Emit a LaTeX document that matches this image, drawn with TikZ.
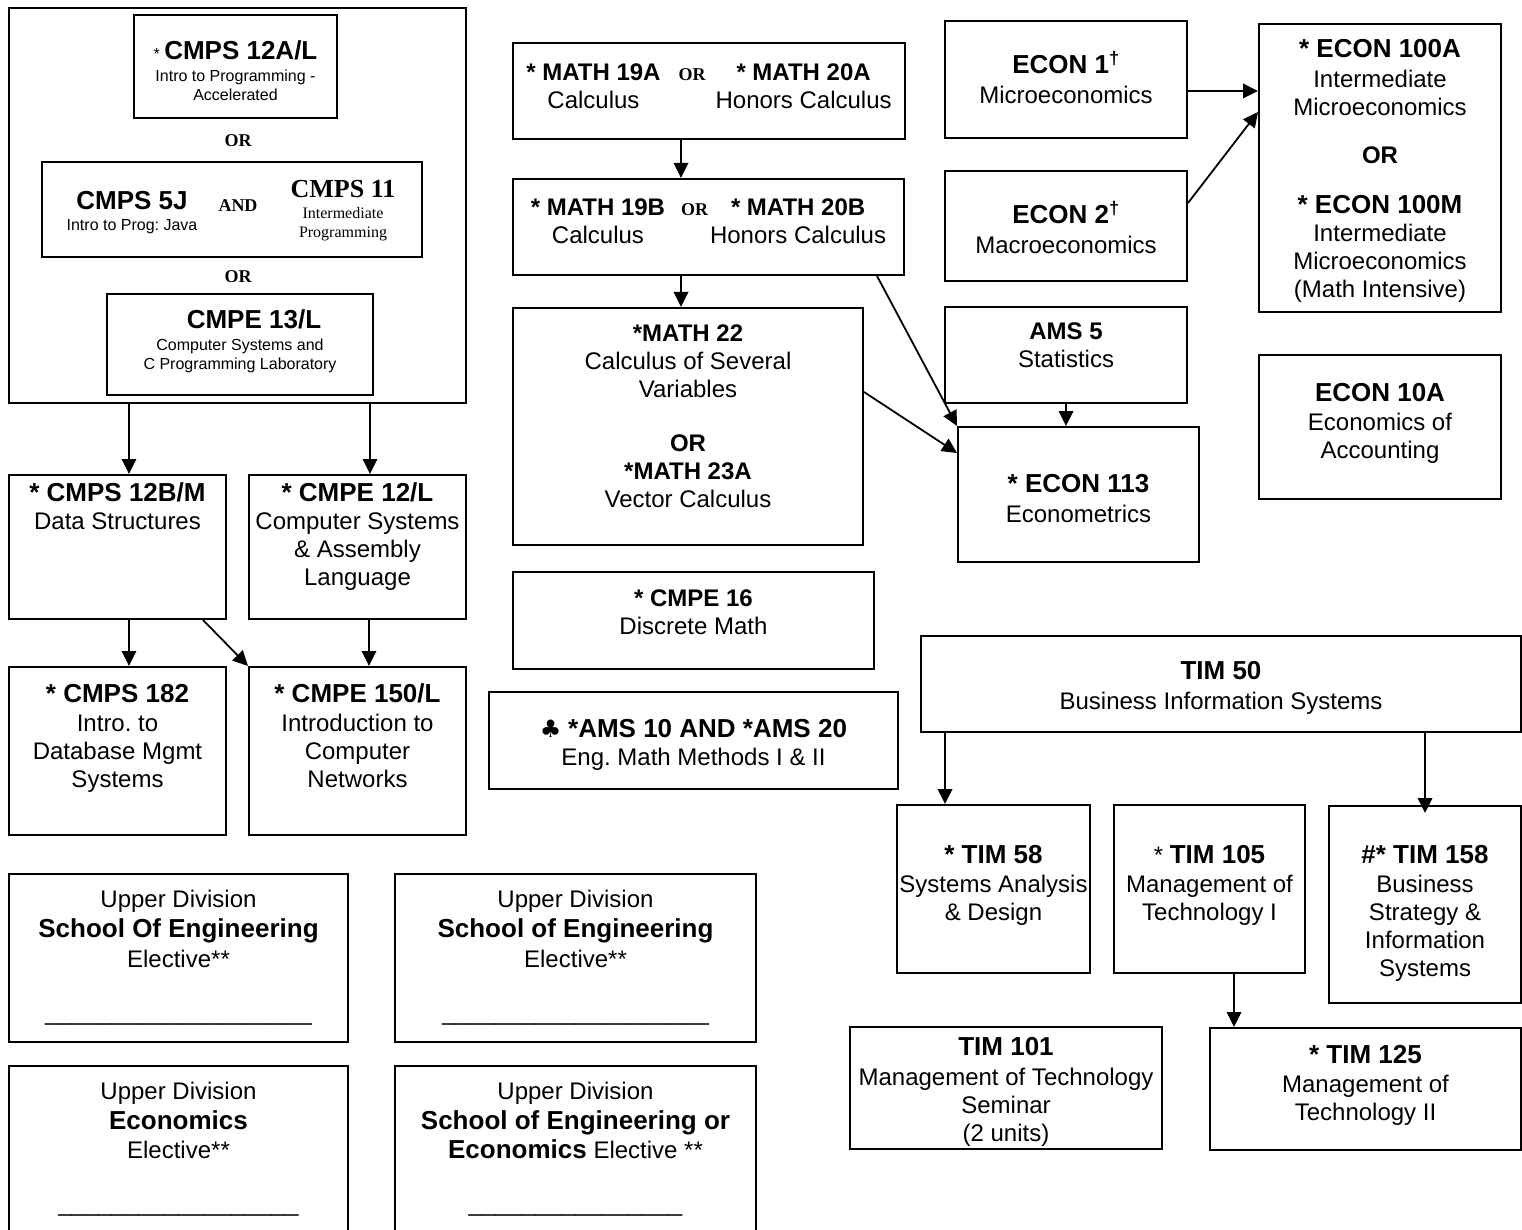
\documentclass[tikz,border=0pt]{standalone}
\usepackage{fontspec}
\setmainfont{Liberation Sans}
\newfontfamily\timesfont{Liberation Serif}
\newfontfamily\clubfont{DejaVu Sans}
\usepackage{tikz}
\usetikzlibrary{arrows.meta, positioning}
\tikzstyle{course} = [draw, line width=2pt, inner sep=0pt, anchor=north west, font=\fontsize{24}{28}\selectfont]
\tikzstyle{groupbox} = [draw, line width=2pt, inner sep=0pt, anchor=north west]
\tikzstyle{orword} = [inner sep=0pt, font=\timesfont\bfseries\fontsize{18}{20}\selectfont]
\tikzstyle{arrow} = [line width=1.8pt, -{Triangle[length=15pt, width=14.5pt]}]
\newcommand{\ctitle}[1]{{\fontsize{26}{28}\selectfont\bfseries #1}}
\newcommand{\clines}[1]{\begin{tabular}[t]{@{}c@{}}#1\end{tabular}}
\newcommand{\blankline}[1]{\foreach \k in {1,...,#1}{\_}}
\frenchspacing

\begin{document}
\begin{tikzpicture}[x=1pt, y=-1pt]
\useasboundingbox (0,0) rectangle (1522,1230);
% first programming course: any one of three
\node (cmpsany) [groupbox, minimum width=457pt, minimum height=395pt] at (8,7) {};
\node (c12a) [course, font=\fontsize{16}{19}\selectfont, minimum width=203pt, text height=45pt, text depth=58pt] at (133,14) {\clines{* \ctitle{CMPS 12A/L}\\[3pt] Intro to Programming -\\ Accelerated}};
\node (or1) [orword, below=15pt of c12a, xshift=2.5pt] {OR};
\node (c5j) [groupbox, minimum width=380pt, minimum height=95pt] at (41,161) {};
\node (c5jname) [inner sep=0pt, anchor=base, font=\fontsize{16}{21}\selectfont] at (132,210) {\clines{\ctitle{CMPS 5J}\\ Intro to Prog: Java}};
\node (andword) [orword, anchor=base] at (238,212) {AND};
\node (c11name) [inner sep=0pt, anchor=base, font=\timesfont\fontsize{16}{19}\selectfont] at (343,198) {\clines{\ctitle{CMPS 11}\\[2pt] Intermediate\\ Programming}};
\node (or2) [orword, below=12pt of c5j, xshift=6pt] {OR};
\node (c13) [course, font=\fontsize{16}{19}\selectfont, minimum width=266pt, text height=34pt, text depth=67pt] at (106,293) {\clines{\ctitle{\hspace*{28pt}CMPE 13/L}\\[3pt] Computer Systems and\\ C Programming Laboratory}};
% computer engineering column
\node (c12b) [course, minimum width=217pt, text height=26pt, text depth=118pt] at (8,474) {\clines{\ctitle{* CMPS 12B/M}\\ Data Structures}};
\node (c12l) [course, minimum width=217pt, text height=26pt, text depth=118pt] at (248,474) {\clines{\ctitle{* CMPE 12/L}\\ Computer Systems\\ \& Assembly\\ Language}};
\node (c182) [course, minimum width=217pt, text height=35pt, text depth=133pt] at (8,666) {\clines{\ctitle{* CMPS 182}\\[1pt] Intro. to\\ Database Mgmt\\ Systems}};
\node (c150) [course, minimum width=217pt, text height=35pt, text depth=133pt] at (248,666) {\clines{\ctitle{* CMPE 150/L}\\[1pt] Introduction to\\ Computer\\ Networks}};
% electives
\node (u1) [course, minimum width=339pt, text height=33pt, text depth=135pt] at (8,873) {\clines{Upper Division\\[2pt] \ctitle{School Of Engineering}\\[2pt] Elective**\\[25pt] \blankline{20}}};
\node (u2) [course, minimum width=361pt, text height=33pt, text depth=135pt] at (394,873) {\clines{Upper Division\\[2pt] \ctitle{School of Engineering}\\[2pt] Elective**\\[25pt] \blankline{20}}};
\node (u3) [course, minimum width=339pt, text height=33pt, text depth=142pt] at (8,1065) {\clines{Upper Division\\[2pt] \ctitle{Economics}\\[1pt] Elective**\\[25pt] \blankline{18}}};
\node (u4) [course, minimum width=361pt, text height=33pt, text depth=142pt] at (394,1065) {\clines{Upper Division\\[2pt] \ctitle{School of Engineering or}\\[1pt] \ctitle{Economics} Elective **\\[25pt] \blankline{16}}};
% mathematics
\node (m19a) [course, minimum width=392pt, text height=37.5pt, text depth=58.5pt] at (512,42) {\begin{tabular}[t]{@{}c@{\hspace{18pt}}c@{\hspace{10pt}}c@{}}\textbf{* MATH 19A} & {\timesfont\bfseries\fontsize{18}{20}\selectfont OR} & \textbf{* MATH 20A}\\ Calculus & & Honors Calculus\end{tabular}};
\node (m19b) [course, minimum width=391pt, text height=36.5pt, text depth=59.5pt] at (512,178) {\begin{tabular}[t]{@{}c@{\hspace{16pt}}c@{\hspace{2pt}}c@{}}\textbf{* MATH 19B} & {\timesfont\bfseries\fontsize{18}{20}\selectfont OR} & \textbf{* MATH 20B}\\ Calculus & & Honors Calculus\end{tabular}};
\node (m22) [course, minimum width=350pt, text height=33.5pt, text depth=203.5pt] at (512,307) {\clines{\textbf{*MATH 22}\\ Calculus of Several\\ Variables\\[26pt] \textbf{OR}\\ \textbf{*MATH 23A}\\ Vector Calculus}};
\node (c16) [course, minimum width=361pt, text height=34.5pt, text depth=62.5pt] at (512,571) {\clines{\textbf{* CMPE 16}\\ Discrete Math}};
\node (a10) [course, minimum width=409pt, text height=45pt, text depth=52pt] at (488,691) {\clines{{\clubfont\bfseries ♣} \ctitle{*AMS 10 AND *AMS 20}\\ Eng. Math Methods I \& II}};
% economics
\node (e1) [course, minimum width=242pt, text height=53pt, text depth=64pt] at (944,20) {\clines{\ctitle{ECON 1\textsuperscript{†}}\\[2pt] Microeconomics}};
\node (e2) [course, minimum width=242pt, text height=53pt, text depth=57pt] at (944,170) {\clines{\ctitle{ECON 2\textsuperscript{†}}\\[2pt] Macroeconomics}};
\node (a5) [course, minimum width=242pt, text height=32.5pt, text depth=63.5pt] at (944,306) {\clines{\textbf{AMS 5}\\ Statistics}};
\node (e113) [course, minimum width=241pt, text height=65pt, text depth=70pt] at (957,426) {\clines{\ctitle{* ECON 113}\\[2pt] Econometrics}};
\node (e100) [course, minimum width=242pt, text height=34pt, text depth=254pt] at (1258,23) {\clines{\ctitle{* ECON 100A}\\[2pt] Intermediate\\ Microeconomics\\[20pt] \textbf{OR}\\[22pt] \ctitle{* ECON 100M}\\ Intermediate\\ Microeconomics\\ (Math Intensive)}};
\node (e10) [course, minimum width=242pt, text height=46pt, text depth=98pt] at (1258,354) {\clines{\ctitle{ECON 10A}\\[1pt] Economics of\\ Accounting}};
% technology and information management
\node (t50) [course, minimum width=600pt, text height=43pt, text depth=53pt] at (920,635) {\clines{\ctitle{TIM 50}\\[2pt] Business Information Systems}};
\node (t58) [course, minimum width=193pt, text height=58pt, text depth=110pt] at (896,804) {\clines{\ctitle{* TIM 58}\\[1pt] Systems Analysis\\ \& Design}};
\node (t105) [course, minimum width=191pt, text height=58pt, text depth=110pt] at (1113,804) {\clines{* \ctitle{TIM 105}\\[1pt] Management of\\ Technology I}};
\node (t158) [course, minimum width=192pt, text height=57pt, text depth=140pt] at (1328,805) {\clines{\ctitle{\#* TIM 158}\\[1pt] Business\\ Strategy \&\\ Information\\ Systems}};
\node (t101) [course, minimum width=312pt, text height=28pt, text depth=94pt] at (849,1026) {\clines{\ctitle{TIM 101}\\[2pt] Management of Technology\\ Seminar\\ (2 units)}};
\node (t125) [course, minimum width=311pt, text height=35pt, text depth=87pt] at (1209,1027) {\clines{\ctitle{* TIM 125}\\[1pt] Management of\\ Technology II}};
% prerequisites
\draw [arrow] ([xshift=11.5pt]c12b.north |- cmpsany.south) -- ([xshift=11.5pt]c12b.north);
\draw [arrow] ([xshift=12.5pt]c12l.north |- cmpsany.south) -- ([xshift=12.5pt]c12l.north);
\draw [arrow] ([xshift=11.5pt]c12b.south) -- ([xshift=11.5pt]c182.north);
\draw [arrow] ([xshift=11.5pt]c12l.south) -- ([xshift=11.5pt]c150.north);
\draw [arrow] ([xshift=85.5pt]c12b.south) -- (c150.north west);
\draw [arrow] ([xshift=-28pt]m19a.south) -- ([xshift=-28pt]m19a.south |- m19b.north);
\draw [arrow] ([xshift=-7pt]m22.north |- m19b.south) -- ([xshift=-7pt]m22.north);
\draw [arrow] ([xshift=168.5pt]m19b.south) -- (e113.north west);
\draw [arrow] ([yshift=34.5pt]m22.east) -- ([yshift=41.5pt]e113.west);
\draw [arrow] (a5.south) -- (a5.south |- e113.north);
\draw [arrow] ([yshift=-11.5pt]e1.east) -- ([yshift=-11.5pt]e1.east -| e100.west);
\draw [arrow] ([yshift=23pt]e2.east) -- ([yshift=56pt]e100.west);
\draw [arrow] ([xshift=-48.5pt]t58.north |- t50.south) -- ([xshift=-48.5pt]t58.north);
\draw [arrow] (t158.north |- t50.south) -- ([yshift=-8pt]t158.north);
\draw [arrow] ([xshift=24.5pt]t105.south) -- ([xshift=24.5pt]t105.south |- t125.north);
\end{tikzpicture}
\end{document}
